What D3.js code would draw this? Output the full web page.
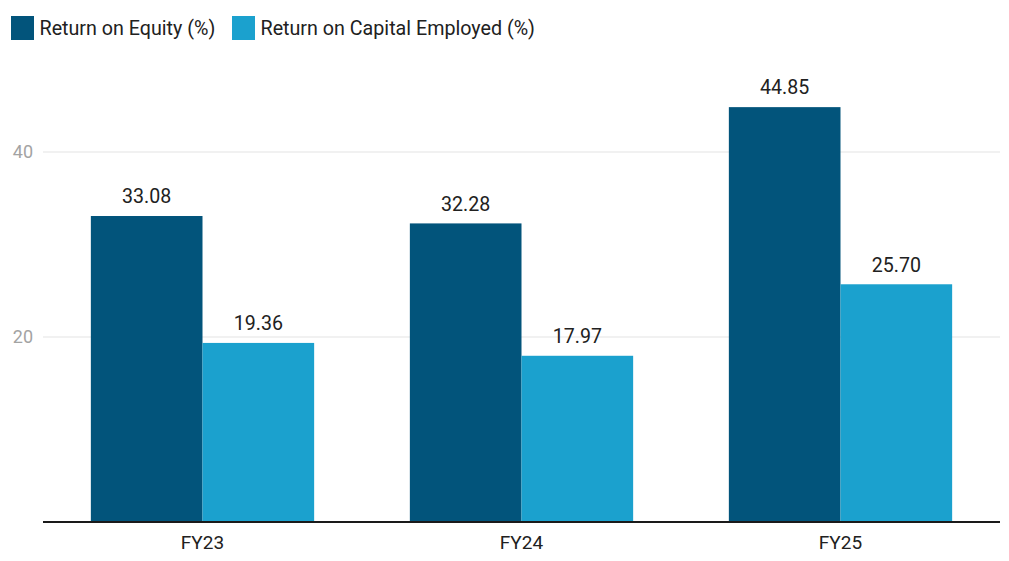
<!DOCTYPE html>
<html>
<head>
<meta charset="utf-8">
<script src="https://cdn.jsdelivr.net/npm/d3@7"></script>
<style>
body { margin: 0; background: #fff; }
text { font-family: Roboto, "Noto Sans", sans-serif; }
</style>
</head>
<body>
<svg></svg>
<script>
// chart values
var categories = ["FY23", "FY24", "FY25"];
var seriesNames = ["Return on Equity (%)", "Return on Capital Employed (%)"];
var roe = [33.08, 32.28, 44.85];
var roce = [19.36, 17.97, 25.70];
var yTicks = [20, 40];
var colors = ["#02547b", "#1ba1ce"];

var svgWidth = 1009, svgHeight = 561;
var svg = d3.select("svg").attr("width", svgWidth).attr("height", svgHeight);

var rows = categories.map(function (c, i) { return { cat: c, vals: [roe[i], roce[i]] }; });

var x0 = d3.scaleBand().domain(categories).range([43, 1000]).paddingInner(0.3).paddingOuter(0.15);
var x1 = d3.scaleBand().domain([0, 1]).range([0, x0.bandwidth()]);
var y = d3.scaleLinear().domain([0, 50]).range([522, 59.5]);

// gridlines
svg.selectAll(".grid").data(yTicks).enter().append("line")
    .attr("x1", 43).attr("x2", 1000)
    .attr("y1", function (d) { return y(d); })
    .attr("y2", function (d) { return y(d); })
    .attr("stroke", "#e3e3e3").attr("stroke-width", 1);

svg.selectAll(".ytick").data(yTicks).enter().append("text")
    .attr("x", 33).attr("y", function (d) { return y(d) + 6; })
    .attr("text-anchor", "end").attr("font-size", 18).attr("fill", "#a3a3a3")
    .text(function (d) { return d; });

var groups = svg.selectAll(".g").data(rows).enter().append("g")
    .attr("transform", function (d) { return "translate(" + x0(d.cat) + ",0)"; });

groups.selectAll("rect").data(function (d) { return d.vals; }).enter().append("rect")
    .attr("x", function (d, i) { return x1(i); })
    .attr("y", function (d) { return y(d); })
    .attr("width", x1.bandwidth())
    .attr("height", function (d) { return y(0) - y(d); })
    .attr("fill", function (d, i) { return colors[i]; });

groups.selectAll(".lbl").data(function (d) { return d.vals; }).enter().append("text")
    .attr("x", function (d, i) { return x1(i) + x1.bandwidth() / 2; })
    .attr("y", function (d) { return y(d) - 12.7; })
    .attr("text-anchor", "middle").attr("font-size", 19.6).attr("fill", "#212121")
    .text(function (d) { return d.toFixed(2); });

// baseline
svg.append("line").attr("x1", 43).attr("x2", 1000)
    .attr("y1", y(0)).attr("y2", y(0))
    .attr("stroke", "#1a1a1a").attr("stroke-width", 2);

svg.selectAll(".xl").data(categories).enter().append("text")
    .attr("x", function (d) { return x0(d) + x0.bandwidth() / 2; })
    .attr("y", 549)
    .attr("text-anchor", "middle").attr("font-size", 19).attr("fill", "#212121")
    .text(function (d) { return d; });

// legend
var legendX = [11, 232];
var leg = svg.selectAll(".leg").data(seriesNames).enter().append("g")
    .attr("transform", function (d, i) { return "translate(" + legendX[i] + ",16)"; });
leg.append("rect").attr("width", 23).attr("height", 24)
    .attr("fill", function (d, i) { return colors[i]; });
leg.append("text").attr("x", 28.5).attr("y", 19)
    .attr("font-size", 19.7).attr("fill", "#212121")
    .text(function (d) { return d; });
</script>
</body>
</html>
